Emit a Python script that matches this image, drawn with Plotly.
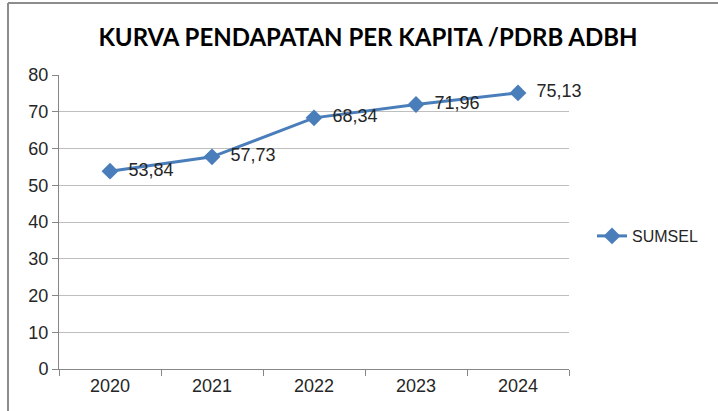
import plotly.graph_objects as go

years = ["2020", "2021", "2022", "2023", "2024"]
values = [53.84, 57.73, 68.34, 71.96, 75.13]
labels = ["53,84", "57,73", "68,34", "71,96", "75,13"]
series_name = "SUMSEL"
title = "KURVA PENDAPATAN PER KAPITA /PDRB ADBH"

W, H = 718, 411
L, R, T, B = 59, 149, 75, 42
pw, ph = W - L - R, H - T - B

def px(x):
    return (x - L) / pw

def py(y):
    return (H - B - y) / ph

TXT = "#262626"
BLUE = "#4A7EBB"

fig = go.Figure()
fig.add_trace(go.Scatter(
    x=years, y=values, mode="lines+markers", name=series_name,
    line=dict(color=BLUE, width=3),
    marker=dict(symbol="diamond", size=13, color=BLUE),
))
# data labels (invisible marker widens the label offset)
fig.add_trace(go.Scatter(
    x=years, y=values, mode="markers+text", text=labels,
    textposition="middle right", showlegend=False, hoverinfo="skip",
    cliponaxis=False,
    marker=dict(size=28, opacity=0),
    textfont=dict(family="Liberation Sans", size=18, color=TXT),
))

fig.update_layout(
    width=W, height=H, autosize=False,
    margin=dict(l=L, r=R, t=T, b=B),
    paper_bgcolor="white", plot_bgcolor="white",
    title=dict(text="<b>" + title + "</b>", x=368 / W, xanchor="center",
               y=1 - 38 / H, yanchor="middle",
               font=dict(family="Lato", size=24, color="black")),
    xaxis=dict(type="category", range=[-0.5, 4.5], showgrid=False,
               showline=True, linecolor="#868686", linewidth=1,
               ticks="outside", tickson="boundaries", ticklen=6, tickcolor="#868686",
               tickfont=dict(family="Liberation Sans", size=18, color=TXT)),
    yaxis=dict(range=[0, 80], dtick=10, showgrid=True, gridcolor="#BFBFBF", gridwidth=1,
               showline=True, linecolor="#868686", linewidth=1, zeroline=False,
               ticks="outside", ticklen=6, tickcolor="#868686",
               tickfont=dict(family="Liberation Sans", size=18, color=TXT)),
    showlegend=True,
    legend=dict(x=px(592), y=py(236), xanchor="left", yanchor="middle",
                itemwidth=30,
                font=dict(family="Liberation Sans", size=16, color=TXT),
                bgcolor="rgba(0,0,0,0)"),
    shapes=[
        dict(type="line", xref="paper", yref="paper", x0=px(8), x1=px(718), y0=py(3), y1=py(3),
             line=dict(color="#8C8C8C", width=2)),
        dict(type="line", xref="paper", yref="paper", x0=px(8), x1=px(8), y0=py(3), y1=py(411),
             line=dict(color="#8C8C8C", width=2)),
    ],
)

fig.write_html("out.html", config={"responsive": False, "displayModeBar": False},
               post_script="document.body.style.margin='0';")
